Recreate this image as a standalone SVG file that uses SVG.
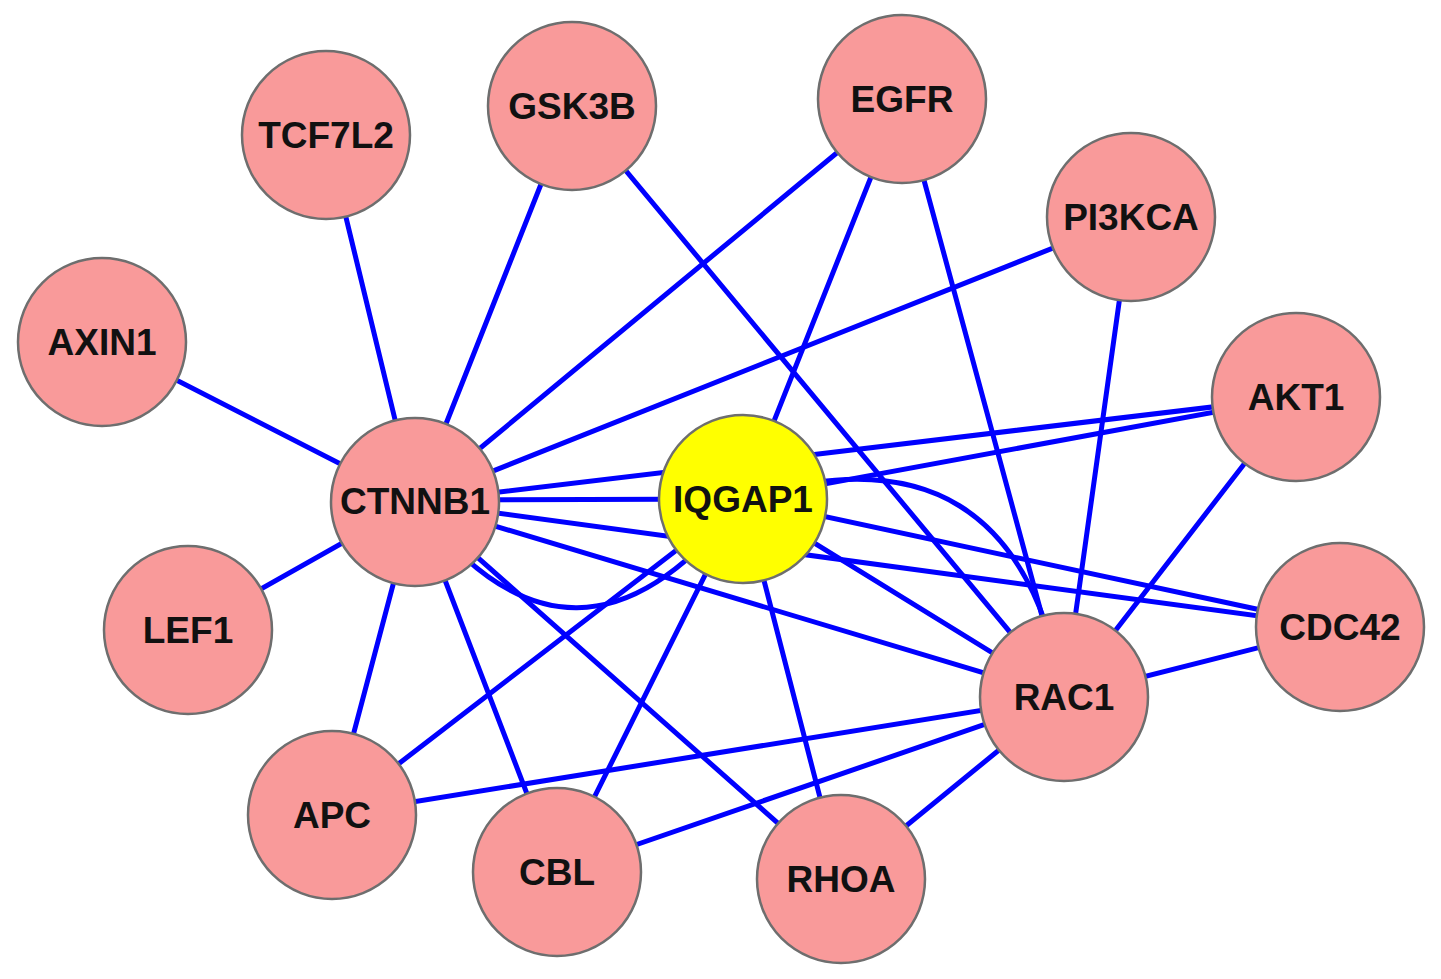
<svg xmlns="http://www.w3.org/2000/svg" width="1441" height="979" viewBox="0 0 1441 979">
<style>
.e{stroke:#0000ff;stroke-width:5;fill:none;stroke-linecap:round}
.n{fill:#f99a9a;stroke:#6e6e6e;stroke-width:2.5}
.c{fill:#ffff00;stroke:#6e6e6e;stroke-width:2.5}
.t{font-family:"Liberation Sans",Arial,sans-serif;font-weight:bold;font-size:37px;fill:#111;text-anchor:middle}
</style>
<rect width="1441" height="979" fill="#fff"/>
<g id="edges">
<line class="e" x1="102" y1="342" x2="415" y2="502"/>
<line class="e" x1="326" y1="135" x2="415" y2="502"/>
<line class="e" x1="572" y1="106" x2="415" y2="502"/>
<line class="e" x1="902" y1="99" x2="415" y2="502"/>
<line class="e" x1="1131" y1="217" x2="415" y2="502"/>
<line class="e" x1="1296" y1="397" x2="415" y2="502"/>
<line class="e" x1="415" y1="500" x2="743" y2="499"/>
<path class="e" d="M415,502 Q575,715 743,499"/>
<line class="e" x1="415" y1="502" x2="1340" y2="627"/>
<line class="e" x1="415" y1="502" x2="1064" y2="697"/>
<line class="e" x1="188" y1="630" x2="415" y2="502"/>
<line class="e" x1="332" y1="815" x2="415" y2="502"/>
<line class="e" x1="557" y1="872" x2="415" y2="502"/>
<line class="e" x1="841" y1="879" x2="415" y2="502"/>
<line class="e" x1="572" y1="106" x2="1064" y2="697"/>
<line class="e" x1="902" y1="99" x2="743" y2="499"/>
<line class="e" x1="902" y1="99" x2="1064" y2="697"/>
<line class="e" x1="1131" y1="217" x2="1064" y2="697"/>
<line class="e" x1="1296" y1="397" x2="743" y2="499"/>
<line class="e" x1="1296" y1="397" x2="1064" y2="697"/>
<line class="e" x1="743" y1="499" x2="1340" y2="627"/>
<line class="e" x1="743" y1="499" x2="1064" y2="697"/>
<path class="e" d="M743,499 Q1016,414 1064,697"/>
<line class="e" x1="743" y1="499" x2="332" y2="815"/>
<line class="e" x1="743" y1="499" x2="557" y2="872"/>
<line class="e" x1="743" y1="499" x2="841" y2="879"/>
<line class="e" x1="1064" y1="697" x2="1340" y2="627"/>
<line class="e" x1="1064" y1="697" x2="332" y2="815"/>
<line class="e" x1="1064" y1="697" x2="557" y2="872"/>
<line class="e" x1="1064" y1="697" x2="841" y2="879"/>
</g>
<g id="TCF7L2"><circle class="n" cx="326" cy="135" r="84"/><text class="t" x="326" y="148">TCF7L2</text></g>
<g id="GSK3B"><circle class="n" cx="572" cy="106" r="84"/><text class="t" x="572" y="119">GSK3B</text></g>
<g id="EGFR"><circle class="n" cx="902" cy="99" r="84"/><text class="t" x="902" y="112">EGFR</text></g>
<g id="PI3KCA"><circle class="n" cx="1131" cy="217" r="84"/><text class="t" x="1131" y="230">PI3KCA</text></g>
<g id="AXIN1"><circle class="n" cx="102" cy="342" r="84"/><text class="t" x="102" y="355">AXIN1</text></g>
<g id="AKT1"><circle class="n" cx="1296" cy="397" r="84"/><text class="t" x="1296" y="410">AKT1</text></g>
<g id="CTNNB1"><circle class="n" cx="415" cy="502" r="84"/><text class="t" x="415" y="514">CTNNB1</text></g>
<g id="IQGAP1"><circle class="c" cx="743" cy="499" r="84"/><text class="t" x="743" y="512">IQGAP1</text></g>
<g id="LEF1"><circle class="n" cx="188" cy="630" r="84"/><text class="t" x="188" y="643">LEF1</text></g>
<g id="CDC42"><circle class="n" cx="1340" cy="627" r="84"/><text class="t" x="1340" y="640">CDC42</text></g>
<g id="RAC1"><circle class="n" cx="1064" cy="697" r="84"/><text class="t" x="1064" y="710">RAC1</text></g>
<g id="APC"><circle class="n" cx="332" cy="815" r="84"/><text class="t" x="332" y="828">APC</text></g>
<g id="CBL"><circle class="n" cx="557" cy="872" r="84"/><text class="t" x="557" y="885">CBL</text></g>
<g id="RHOA"><circle class="n" cx="841" cy="879" r="84"/><text class="t" x="841" y="892">RHOA</text></g>
</svg>
